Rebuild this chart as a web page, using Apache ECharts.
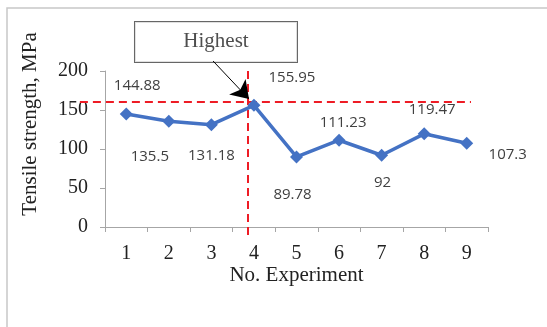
<!DOCTYPE html>
<html>
<head>
<meta charset="utf-8">
<script src="https://cdn.jsdelivr.net/npm/echarts@6/dist/echarts.min.js"></script>
<style>html,body{margin:0;padding:0;background:#fff}#c{width:547px;height:327px}</style>
</head>
<body>
<div id="c"></div>
<script>
var categories = ['1','2','3','4','5','6','7','8','9'];
var tensile = [144.88, 135.5, 131.18, 155.95, 89.78, 111.23, 92, 119.47, 107.3];
var labelOffsets = [[11,-28],[-19,35],[0,31],[38,-28],[-4,38],[4,-18],[1,27],[8,-24],[41,11]];
var yTicks = {min: 0, max: 200, interval: 50};
var refVertical = [[3.86, 200], [3.86, -16.7]];
var refHorizontal = [[-0.09, 160.3], [9.1, 160.3]];
var calloutText = 'Highest';
var calloutPos = [3.108, 237.2];
var arrowLine = [[3.04, 212.8], [3.884, 164]];

var serif = '"Liberation Serif","Times New Roman",serif';
var sans = '"Open Sans",sans-serif';

var chart = echarts.init(document.getElementById('c'), null, {renderer: 'canvas'});
chart.setOption({
  animation: false,
  backgroundColor: '#fff',
  graphic: [{
    type: 'rect', shape: {x: 7, y: 8, width: 700, height: 500},
    style: {fill: 'none', stroke: '#c8c8c8', lineWidth: 1.5}, silent: true, z: -1
  }],
  grid: {left: 105, top: 71, width: 383, height: 156},
  xAxis: [{
    type: 'category', data: categories, boundaryGap: true,
    axisLine: {lineStyle: {color: '#a6a6a6', width: 1}},
    axisTick: {show: true, length: 5, alignWithLabel: false, lineStyle: {color: '#a6a6a6'}},
    axisLabel: {fontFamily: serif, fontSize: 20, color: '#222', margin: 17},
    name: 'No. Experiment', nameLocation: 'middle', nameGap: 38,
    nameTextStyle: {fontFamily: serif, fontSize: 21, color: '#222'}
  }, {
    type: 'value', min: 0.5, max: 9.5, show: false
  }],
  yAxis: {
    type: 'value', min: yTicks.min, max: yTicks.max, interval: yTicks.interval,
    axisLine: {show: true, lineStyle: {color: '#a6a6a6', width: 1}},
    axisTick: {show: true, length: 5, lineStyle: {color: '#a6a6a6'}},
    splitLine: {show: false},
    axisLabel: {fontFamily: serif, fontSize: 20, color: '#222', margin: 17},
    name: 'Tensile strength, MPa', nameLocation: 'middle', nameGap: 64,
    nameTextStyle: {fontFamily: serif, fontSize: 21, color: '#222', padding: [0, 0, 0, 50]}
  },
  series: [{
    type: 'line', data: tensile, xAxisIndex: 0,
    symbol: 'diamond', symbolSize: 13,
    lineStyle: {color: '#4472c4', width: 3.5},
    itemStyle: {color: '#4472c4'},
    label: {show: true, position: 'inside', fontFamily: sans, fontSize: 15, color: '#404040',
      formatter: function (p) { return String(p.value); }},
    labelLayout: function (p) {
      var o = labelOffsets[p.dataIndex];
      return {x: p.rect.x + p.rect.width / 2 + o[0], y: p.rect.y + p.rect.height / 2 + o[1], align: 'center', verticalAlign: 'middle'};
    },
    z: 5
  }, {
    type: 'lines', coordinateSystem: 'cartesian2d', xAxisIndex: 1, clip: false, silent: true,
    polyline: false, symbol: ['none', 'none'],
    lineStyle: {color: '#ee1c25', type: [8, 5], width: 2, opacity: 1},
    data: [{coords: refVertical}, {coords: refHorizontal}],
    z: 4
  }, {
    type: 'lines', coordinateSystem: 'cartesian2d', xAxisIndex: 1, clip: false, silent: true,
    symbol: ['none', 'arrow'], symbolSize: [13, 17],
    lineStyle: {color: '#000', type: 'solid', width: 1, opacity: 1},
    data: [{coords: arrowLine}],
    z: 6
  }, {
    type: 'scatter', xAxisIndex: 1, clip: false, silent: true,
    data: [calloutPos], symbolSize: 0,
    label: {show: true, position: 'inside', formatter: calloutText,
      fontFamily: serif, fontSize: 21, color: '#222',
      backgroundColor: '#fff', borderColor: '#404040', borderWidth: 1,
      width: 162, height: 35, lineHeight: 35, align: 'center', verticalAlign: 'middle', padding: [5, 0, 0, 0]},
    z: 3
  }]
});
</script>
</body>
</html>
